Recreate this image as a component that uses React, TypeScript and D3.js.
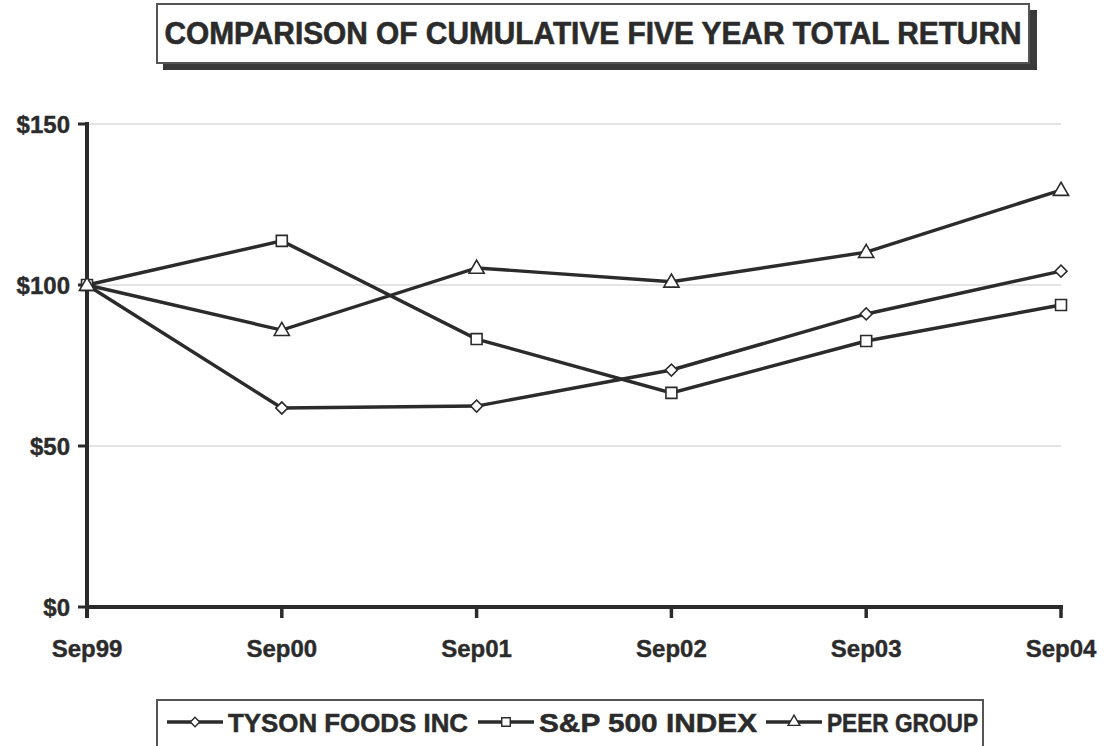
import React, { useMemo } from "react";
import { scaleLinear, scalePoint, line, symbol, symbolSquare, symbolTriangle } from "d3";

const categories = ["Sep99", "Sep00", "Sep01", "Sep02", "Sep03", "Sep04"];
const tysonValues = [100, 61.8, 62.4, 73.6, 91.0, 104.3];
const sp500Values = [100, 113.7, 83.2, 66.5, 82.6, 93.8];
const peerValues = [100, 86.0, 105.3, 101.0, 110.2, 129.5];
const yTicks = [0, 50, 100, 150];
const seriesNames = ["TYSON FOODS INC", "S&P 500 INDEX", "PEER GROUP"];

const INK = "#2b2b2b";
const FONT = "'Liberation Sans', Arial, Helvetica, sans-serif";

const width = 1106;
const height = 746;
const plot = { left: 87, right: 1061, top: 124, bottom: 607 };

type Series = { name: string; values: number[]; shape: any; size: number; rotate: number };

export default function App() {
  const series: Series[] = [
    { name: seriesNames[0], values: tysonValues, shape: symbolSquare, size: 72, rotate: 45 },
    { name: seriesNames[1], values: sp500Values, shape: symbolSquare, size: 120, rotate: 0 },
    { name: seriesNames[2], values: peerValues, shape: symbolTriangle, size: 100, rotate: 0 }
  ];

  const x = useMemo(
    () => scalePoint<string>().domain(categories).range([plot.left, plot.right]),
    []
  );
  const y = useMemo(
    () => scaleLinear().domain([0, 150]).range([plot.bottom, plot.top]),
    []
  );

  const lineGen = line<number>()
    .x((_, i) => x(categories[i]) as number)
    .y((d) => y(d));

  // legend layout: line start, text start, text length
  const legendItems = [
    { lx: 167, tx: 228, tl: 240 },
    { lx: 478, tx: 539, tl: 218 },
    { lx: 766, tx: 827, tl: 151 }
  ];

  return (
    <div style={{ position: "absolute", left: 0, top: 0 }}>
      <svg width={width} height={height} style={{ display: "block", background: "#fff" }}>
        {/* title box with drop shadow */}
        <rect x={163} y={10} width={874} height={60} fill="#3a3a3a" />
        <rect x={157} y={4} width={872} height={59} fill="#fff" stroke="#555" strokeWidth={2} />
        <text
          x={593}
          y={44}
          textAnchor="middle"
          fontFamily={FONT}
          fontWeight="bold"
          fontSize={31}
          fill={INK}
          stroke={INK}
          strokeWidth={0.6}
          textLength={857}
          lengthAdjust="spacingAndGlyphs"
        >
          COMPARISON OF CUMULATIVE FIVE YEAR TOTAL RETURN
        </text>

        {/* gridlines */}
        {yTicks.filter((t) => t > 0).map((t) => (
          <line key={`g${t}`} x1={plot.left} x2={plot.right} y1={y(t)} y2={y(t)} stroke="#c8c8c8" strokeWidth={1.2} />
        ))}

        {/* y axis */}
        <line x1={plot.left} x2={plot.left} y1={plot.top - 2} y2={plot.bottom + 11} stroke={INK} strokeWidth={4} />
        {yTicks.map((t) => (
          <g key={`y${t}`}>
            <line x1={plot.left - 9} x2={plot.left} y1={y(t)} y2={y(t)} stroke={INK} strokeWidth={3} />
            <text
              x={70}
              y={y(t)}
              dy="0.36em"
              textAnchor="end"
              fontFamily={FONT}
              fontWeight="bold"
              fontSize={24}
              fill={INK}
              stroke={INK}
              strokeWidth={0.4}
            >
              ${t}
            </text>
          </g>
        ))}

        {/* x axis */}
        <line x1={plot.left} x2={plot.right + 2} y1={plot.bottom} y2={plot.bottom} stroke={INK} strokeWidth={4} />
        {categories.map((c) => (
          <g key={c}>
            <line x1={x(c)} x2={x(c)} y1={plot.bottom} y2={plot.bottom + 11} stroke={INK} strokeWidth={3.5} />
            <text
              x={x(c)}
              y={657}
              textAnchor="middle"
              fontFamily={FONT}
              fontWeight="bold"
              fontSize={24}
              fill={INK}
              stroke={INK}
              strokeWidth={0.4}
            >
              {c}
            </text>
          </g>
        ))}

        {/* series lines */}
        {series.map((s) => (
          <path key={`l${s.name}`} d={lineGen(s.values) || ""} fill="none" stroke={INK} strokeWidth={3.4} />
        ))}

        {/* markers */}
        {series.map((s) =>
          s.values.map((v, i) => (
            <path
              key={`m${s.name}${i}`}
              d={symbol().type(s.shape).size(s.size)() || ""}
              transform={`translate(${x(categories[i])},${y(v) + (s.shape === symbolTriangle ? 1 : 0)}) rotate(${s.rotate})`}
              fill="#fff"
              stroke={INK}
              strokeWidth={1.6}
            />
          ))
        )}

        {/* legend */}
        <rect x={157} y={700} width={826} height={52} fill="#fff" stroke="#555" strokeWidth={2} />
        {series.map((s, i) => {
          const it = legendItems[i];
          return (
            <g key={`lg${s.name}`}>
              <line x1={it.lx} x2={it.lx + 56} y1={722} y2={722} stroke={INK} strokeWidth={3.4} />
              <path
                d={symbol().type(s.shape).size(s.size * 0.6)() || ""}
                transform={`translate(${it.lx + 28},722) rotate(${s.rotate})`}
                fill="#fff"
                stroke={INK}
                strokeWidth={1.4}
              />
              <text
                x={it.tx}
                y={732}
                fontFamily={FONT}
                fontWeight="bold"
                fontSize={26}
                fill={INK}
                stroke={INK}
                strokeWidth={0.5}
                textLength={it.tl}
                lengthAdjust="spacingAndGlyphs"
              >
                {s.name}
              </text>
            </g>
          );
        })}
      </svg>
    </div>
  );
}
